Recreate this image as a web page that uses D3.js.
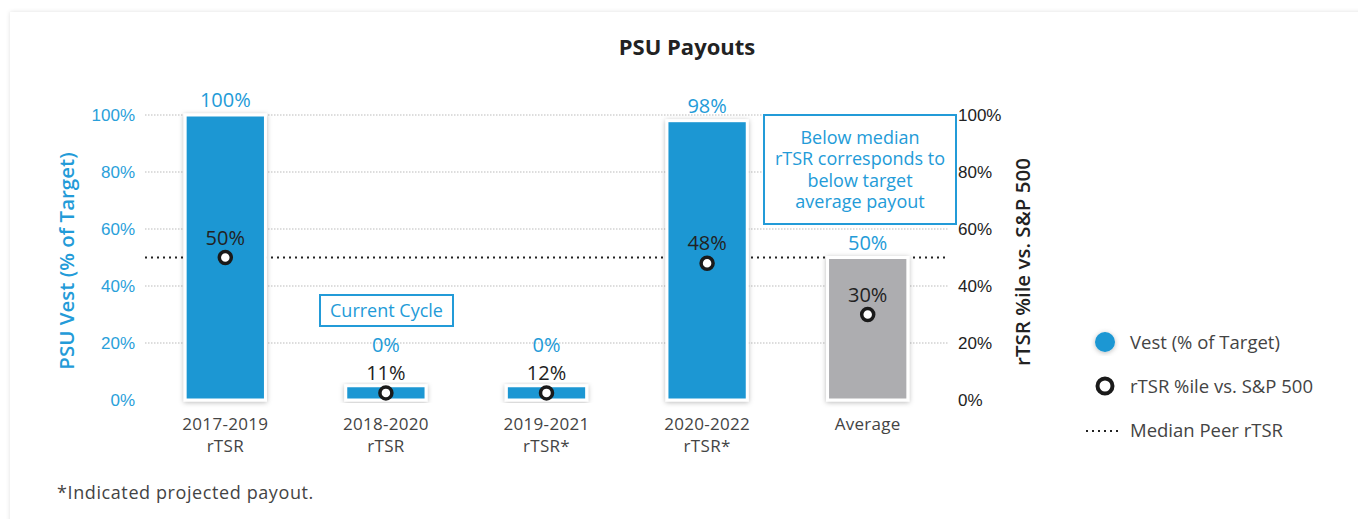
<!DOCTYPE html>
<html>
<head>
<meta charset="utf-8">
<script src="https://cdn.jsdelivr.net/npm/d3@7"></script>
<style>
  html, body { margin: 0; padding: 0; background: #fff; }
  svg { display: block; font-family: "Open Sans", "Lato", sans-serif; }
</style>
</head>
<body>
<script>
// data
const categories = [["2017-2019", "rTSR"], ["2018-2020", "rTSR"], ["2019-2021", "rTSR*"], ["2020-2022", "rTSR*"], ["Average"]];
const vest = [100, 0, 0, 98, 50];
const rtsr = [50, 11, 12, 48, 30];
const medianPeer = 50;
const ticks = [0, 20, 40, 60, 80, 100];

const width = 1358, height = 519;
const blue = "#1b97d3", gray = "#adadb0", labelBlue = "#239bd8";
const minStub = 5; // zero-payout bars are drawn as a thin stub

const svg = d3.select("body").append("svg")
    .attr("width", width)
    .attr("height", height);

const defs = svg.append("defs");
const sh = defs.append("filter").attr("id", "shadow")
    .attr("x", "-20%").attr("y", "-20%").attr("width", "140%").attr("height", "140%");
sh.append("feDropShadow").attr("dx", 0).attr("dy", 1).attr("stdDeviation", 2.5)
    .attr("flood-color", "#000").attr("flood-opacity", 0.28);
const cardSh = defs.append("filter").attr("id", "cardShadow")
    .attr("x", "-5%").attr("y", "-5%").attr("width", "110%").attr("height", "110%");
cardSh.append("feDropShadow").attr("dx", 0).attr("dy", 0).attr("stdDeviation", 2)
    .attr("flood-color", "#000").attr("flood-opacity", 0.12);

// card
svg.append("rect")
    .attr("x", 10).attr("y", 12).attr("width", 1360).attr("height", 520)
    .attr("fill", "#fff").attr("filter", "url(#cardShadow)");

const margin = {left: 145, right: 410, top: 115, bottom: 119};
const x = d3.scaleBand()
    .domain(d3.range(categories.length))
    .range([margin.left, width - margin.right])
    .paddingInner(0.5).paddingOuter(0.25);
const y = d3.scaleLinear().domain([0, 100]).range([height - margin.bottom, margin.top]);

// title
svg.append("text")
    .attr("x", 687).attr("y", 55)
    .attr("text-anchor", "middle")
    .attr("font-size", 22).attr("font-weight", 700).attr("fill", "#222")
    .text("PSU Payouts");

// gridlines
svg.append("g").selectAll("line")
  .data(ticks.filter(t => t > 0))
  .join("line")
    .attr("x1", margin.left).attr("x2", width - margin.right)
    .attr("y1", d => y(d)).attr("y2", d => y(d))
    .attr("stroke", "#bbb").attr("stroke-width", 1).attr("stroke-dasharray", "1.5,1.5");

// left axis
const leftAxis = svg.append("g")
    .attr("transform", `translate(${margin.left},0)`)
    .call(d3.axisLeft(y).tickValues(ticks).tickFormat(d => d + "%").tickSize(0).tickPadding(10));
leftAxis.select(".domain").remove();
leftAxis.selectAll("text").attr("font-size", 17).attr("fill", "#2aa0da").attr("font-family", null);

// right axis
const rightAxis = svg.append("g")
    .attr("transform", `translate(${width - margin.right},0)`)
    .call(d3.axisRight(y).tickValues(ticks).tickFormat(d => d + "%").tickSize(0).tickPadding(10));
rightAxis.select(".domain").remove();
rightAxis.selectAll("text").attr("font-size", 17).attr("fill", "#222").attr("font-family", null);

// axis titles
svg.append("text")
    .attr("transform", `translate(74,261) rotate(-90)`)
    .attr("text-anchor", "middle")
    .attr("font-size", 20.5).attr("font-weight", 600).attr("fill", labelBlue)
    .text("PSU Vest (% of Target)");
svg.append("text")
    .attr("transform", `translate(1030,262) rotate(-90)`)
    .attr("text-anchor", "middle")
    .attr("font-size", 20.5).attr("font-weight", 600).attr("fill", "#222")
    .text("rTSR %ile vs. S&P 500");

// median peer line
svg.append("line")
    .attr("x1", margin.left).attr("x2", width - margin.right)
    .attr("y1", y(medianPeer)).attr("y2", y(medianPeer))
    .attr("stroke", "#222").attr("stroke-width", 2).attr("stroke-dasharray", "2,4");

// bars
const barTop = (d) => y(Math.max(d, minStub));
svg.append("g").selectAll("rect")
  .data(vest)
  .join("rect")
    .attr("x", (d, i) => x(i))
    .attr("y", d => barTop(d))
    .attr("width", x.bandwidth())
    .attr("height", d => y(0) - barTop(d))
    .attr("fill", (d, i) => i === vest.length - 1 ? gray : blue)
    .attr("stroke", "#fff").attr("stroke-width", 3)
    .attr("filter", "url(#shadow)");

// rTSR dots (stub bars carry the dot at their middle)
const dotY = (i) => vest[i] === 0 ? (barTop(vest[i]) + y(0)) / 2 : y(rtsr[i]);
const cx = (i) => x(i) + x.bandwidth() / 2;
svg.append("g").selectAll("circle")
  .data(rtsr)
  .join("circle")
    .attr("cx", (d, i) => cx(i))
    .attr("cy", (d, i) => dotY(i))
    .attr("r", 6)
    .attr("fill", "#fff").attr("stroke", "#1a1a1a").attr("stroke-width", 3.5);

// rTSR labels
svg.append("g").selectAll("text")
  .data(rtsr)
  .join("text")
    .attr("x", (d, i) => cx(i))
    .attr("y", (d, i) => dotY(i) - 13)
    .attr("text-anchor", "middle")
    .attr("font-size", 20).attr("fill", "#222")
    .text(d => d + "%");

// vest labels
svg.append("g").selectAll("text")
  .data(vest)
  .join("text")
    .attr("x", (d, i) => cx(i))
    .attr("y", (d, i) => d === 0 ? dotY(i) - 41 : barTop(d) - 8)
    .attr("text-anchor", "middle")
    .attr("font-size", 20).attr("fill", labelBlue)
    .text(d => d + "%");

// category labels
const cat = svg.append("g").selectAll("text")
  .data(categories)
  .join("text")
    .attr("x", (d, i) => cx(i))
    .attr("y", y(0) + 30)
    .attr("text-anchor", "middle")
    .attr("font-size", 17).attr("letter-spacing", 0.3).attr("fill", "#444");
cat.selectAll("tspan")
  .data(d => d)
  .join("tspan")
    .attr("x", function() { return this.parentNode.getAttribute("x"); })
    .attr("dy", (d, j) => j === 0 ? 0 : 21.5)
    .text(d => d);

// annotation boxes
function noteBox(x0, y0, w, h, lines, size, lineH) {
  svg.append("rect")
      .attr("x", x0).attr("y", y0).attr("width", w).attr("height", h)
      .attr("fill", "#fff").attr("stroke", labelBlue).attr("stroke-width", 2);
  const t = svg.append("text")
      .attr("text-anchor", "middle").attr("font-size", size).attr("fill", labelBlue);
  const startY = y0 + h / 2 - (lines.length - 1) * lineH / 2 + size * 0.36;
  lines.forEach((l, j) => t.append("tspan").attr("x", x0 + w / 2).attr("y", startY + j * lineH).text(l));
}
noteBox(320, 295, 133, 31, ["Current Cycle"], 18, 20);
noteBox(764, 115, 192, 109, ["Below median", "rTSR corresponds to", "below target", "average payout"], 18, 21.3);

// legend
const lg = svg.append("g").attr("transform", "translate(1105,0)");
lg.append("circle").attr("cx", 0).attr("cy", 342).attr("r", 10)
    .attr("fill", blue).attr("filter", "url(#shadow)");
lg.append("circle").attr("cx", 0).attr("cy", 386).attr("r", 7.5)
    .attr("fill", "#fff").attr("stroke", "#1a1a1a").attr("stroke-width", 4);
lg.append("line").attr("x1", -19).attr("x2", 15).attr("y1", 431).attr("y2", 431)
    .attr("stroke", "#222").attr("stroke-width", 2).attr("stroke-dasharray", "2,4");
lg.selectAll("text.lg")
  .data(["Vest (% of Target)", "rTSR %ile vs. S&P 500", "Median Peer rTSR"])
  .join("text")
    .attr("class", "lg")
    .attr("x", 25).attr("y", (d, i) => 349 + i * 44)
    .attr("font-size", 18.5).attr("fill", "#444")
    .text(d => d);

// footnote
svg.append("text")
    .attr("x", 57).attr("y", 499)
    .attr("font-size", 18).attr("letter-spacing", 0.6).attr("fill", "#444")
    .text("*Indicated projected payout.");
</script>
</body>
</html>
